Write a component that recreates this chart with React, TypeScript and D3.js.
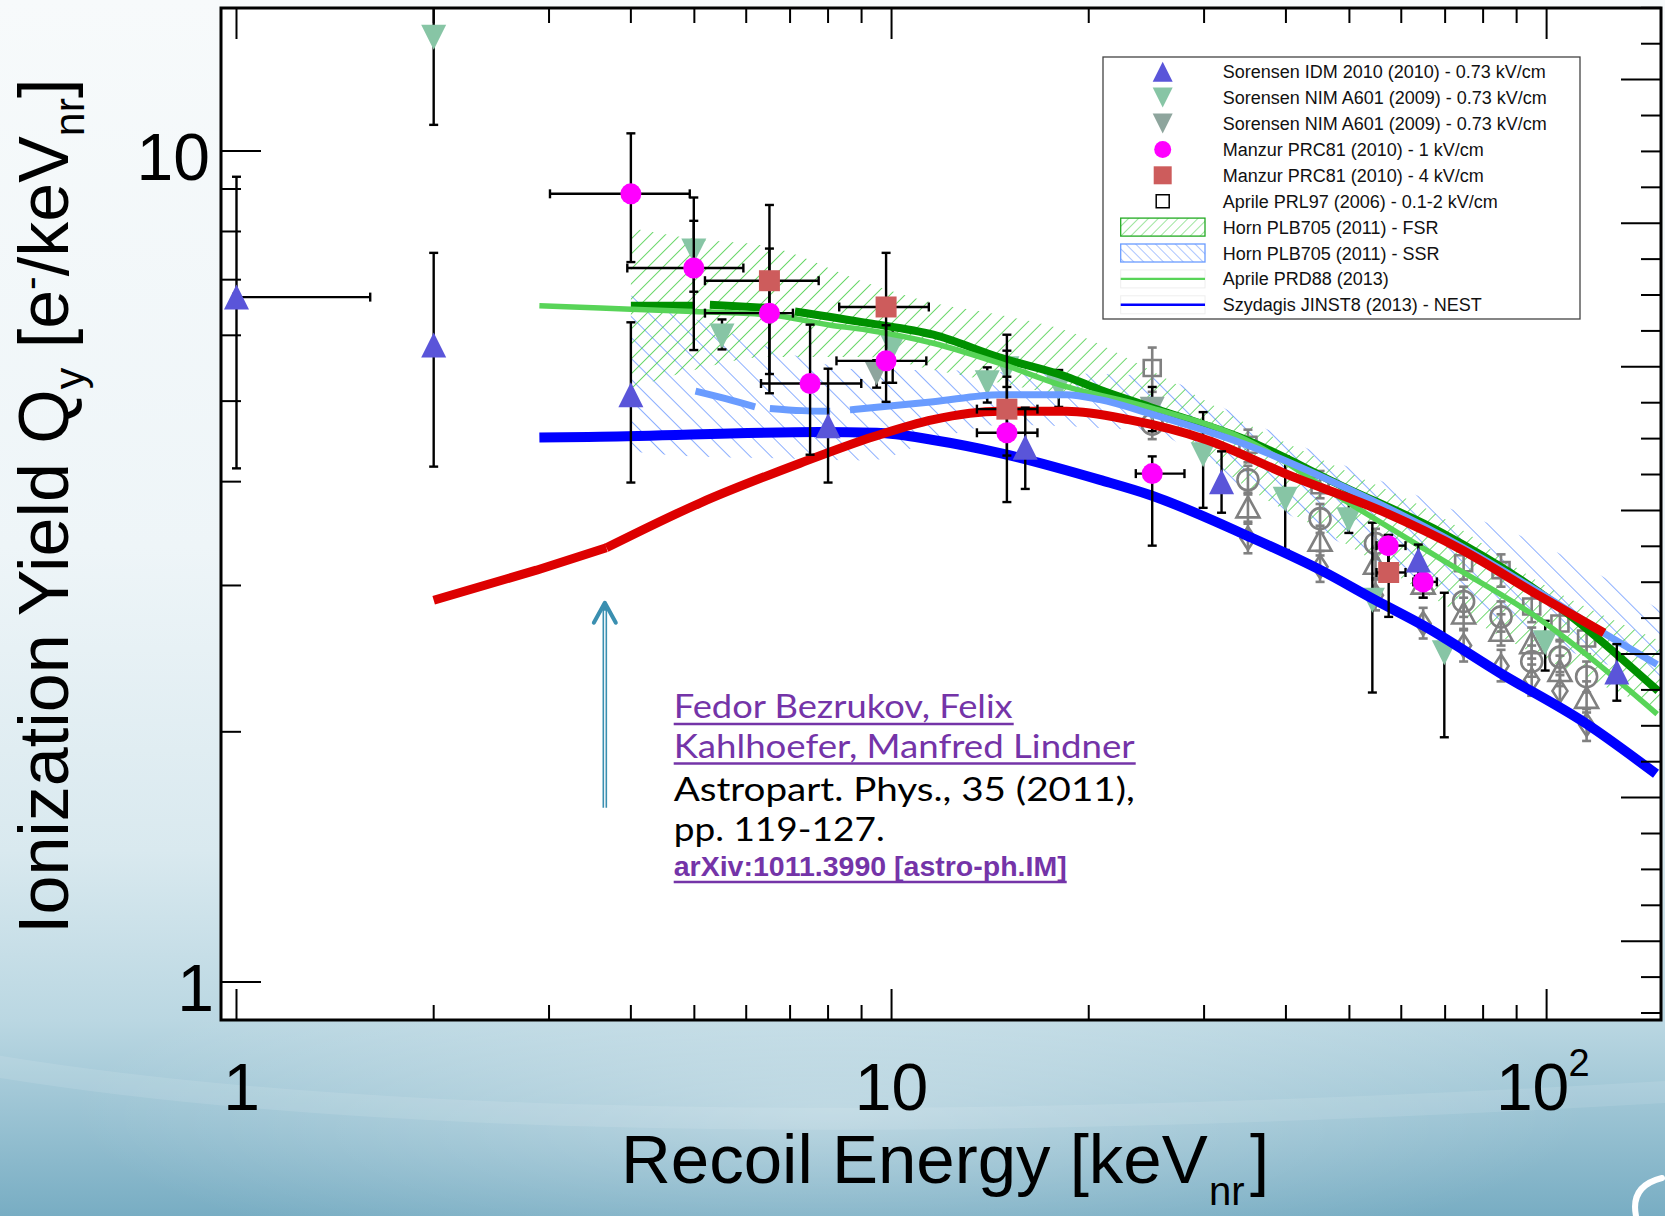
import React from "react";
import * as d3 from "d3";

// ---------- canvas & frame ----------
const WIDTH = 1665;
const HEIGHT = 1216;
const FRAME = { left: 221, top: 8, right: 1661, bottom: 1020 };

const X_DOMAIN: [number, number] = [0.947, 149.5];
const Y_DOMAIN: [number, number] = [0.9, 14.86];
const RIGHT_DOMAIN: [number, number] = [-0.195, 27.995];

// ---------- ticks ----------
const xTicksMajor = [1, 10, 100];
const xTicksMinor = [2, 3, 4, 5, 6, 7, 8, 9, 20, 30, 40, 50, 60, 70, 80, 90];
const yTicksMajor = [1, 10];
const yTicksMinor = [2, 3, 4, 5, 6, 7, 8, 9];
const rightTicks = d3.range(0, 29);

// ---------- measurements (E [keVnr], Qy [e-/keVnr], bounds) ----------
type Pt = { e: number; q: number; eLo?: number; eHi?: number; qLo?: number; qHi?: number };

const sorensenIdm: Pt[] = [
  { e: 1.0, q: 6.67, eLo: 0.99, eHi: 1.6, qLo: 4.15, qHi: 9.31 },
  { e: 2.0, q: 5.84, qLo: 4.17, qHi: 7.54 },
  { e: 4.0, q: 5.09, qLo: 3.99, qHi: 6.22 },
  { e: 8.0, q: 4.67, qLo: 3.99, qHi: 5.47 },
  { e: 16.0, q: 4.4, qLo: 3.92, qHi: 4.91 },
  { e: 31.9, q: 4.0, qLo: 3.67, qHi: 4.35 },
  { e: 63.7, q: 3.22, qLo: 3.08, qHi: 3.36 },
  { e: 128, q: 2.36, qLo: 2.18, qHi: 2.55 },
];

const sorensenNimA: Pt[] = [
  { e: 2.0, q: 13.7, qLo: 10.75, qHi: 16 },
  { e: 4.99, q: 7.58, qLo: 6.77, qHi: 8.24 },
  { e: 5.51, q: 5.99, qLo: 5.77, qHi: 6.27 },
  { e: 10.04, q: 5.81, qLo: 5.26, qHi: 6.17 },
  { e: 14.0, q: 5.26, qLo: 4.98, qHi: 5.49 },
  { e: 15.0, q: 5.47, qLo: 5.2, qHi: 5.75 },
  { e: 18.0, q: 5.2, qLo: 4.92, qHi: 5.45 },
  { e: 29.9, q: 4.31, qLo: 3.72, qHi: 4.85 },
  { e: 39.9, q: 3.81, qLo: 3.31, qHi: 4.29 },
  { e: 49.9, q: 3.6, qLo: 3.47, qHi: 3.88 },
  { e: 54.2, q: 2.88, qLo: 2.23, qHi: 3.57 },
  { e: 69.8, q: 2.49, qLo: 1.97, qHi: 2.94 },
  { e: 99.5, q: 2.56, qLo: 2.37, qHi: 2.72 },
];

const sorensenNimB: Pt[] = [
  { e: 9.49, q: 5.41, qLo: 5.19, qHi: 5.6 },
  { e: 25.0, q: 4.89, qLo: 4.6, qHi: 5.2 },
];

const manzur1kV: Pt[] = [
  { e: 4.0, q: 8.88, eLo: 3.01, eHi: 4.92, qLo: 7.35, qHi: 10.5 },
  { e: 4.99, q: 7.23, eLo: 3.95, eHi: 5.94, qLo: 5.76, qHi: 8.79 },
  { e: 6.51, q: 6.38, eLo: 5.19, eHi: 7.07, qLo: 5.39, qHi: 7.63 },
  { e: 7.51, q: 5.25, eLo: 6.32, eHi: 8.99, qLo: 4.31, qHi: 6.18 },
  { e: 9.81, q: 5.59, eLo: 8.24, eHi: 11.3, qLo: 4.99, qHi: 6.17 },
  { e: 15.0, q: 4.58, eLo: 13.5, eHi: 16.7, qLo: 3.78, qHi: 5.35 },
  { e: 25.0, q: 4.09, eLo: 23.6, eHi: 28.0, qLo: 3.35, qHi: 4.29 },
  { e: 57.3, q: 3.35, eLo: 55.0, eHi: 60.9, qLo: 3.05, qHi: 3.45 },
  { e: 64.8, q: 3.03, eLo: 62.6, eHi: 68.0, qLo: 2.9, qHi: 3.15 },
];

const manzur4kV: Pt[] = [
  { e: 6.51, q: 6.98, eLo: 5.19, eHi: 7.74, qLo: 5.11, qHi: 8.61 },
  { e: 9.81, q: 6.49, eLo: 8.32, eHi: 11.4, qLo: 5.26, qHi: 7.54 },
  { e: 15.0, q: 4.89, eLo: 13.5, eHi: 16.7, qLo: 4.3, qHi: 6.01 },
  { e: 57.4, q: 3.11, eLo: 55.0, eHi: 60.9, qLo: 2.75, qHi: 3.45 },
];

// [E, Qy, Qy low, Qy high]
const aprile2006Squares = [
  [25.0, 5.48, 5.13, 5.8], [35.0, 4.43, 4.22, 4.62], [45.1, 3.96, 3.82, 4.12],
  [74.7, 3.19, 3.05, 3.34], [85.2, 3.13, 2.99, 3.27], [94.9, 2.83, 2.71, 2.96],
  [104.8, 2.7, 2.58, 2.83], [115.1, 2.59, 2.48, 2.71],
];
const greyCircles = [
  [25.0, 4.69, 4.5, 4.9], [35.0, 4.02, 3.86, 4.18], [45.1, 3.61, 3.47, 3.76],
  [54.8, 3.37, 3.23, 3.51], [74.7, 2.87, 2.75, 2.99], [85.2, 2.75, 2.64, 2.87],
  [94.9, 2.43, 2.33, 2.54], [104.8, 2.46, 2.36, 2.57], [115.1, 2.33, 2.23, 2.43],
];
const greyTriangles = [
  [35.0, 3.73, 3.58, 3.88], [45.1, 3.4, 3.26, 3.54], [54.8, 3.19, 3.06, 3.33],
  [64.8, 3.02, 2.9, 3.15], [74.7, 2.78, 2.66, 2.9], [85.2, 2.65, 2.54, 2.77],
  [94.9, 2.56, 2.45, 2.67], [104.8, 2.37, 2.27, 2.47], [115.1, 2.2, 2.11, 2.3],
];
const greyDiamonds = [
  [35.0, 3.42, 3.28, 3.56], [45.1, 3.16, 3.03, 3.3], [54.8, 2.92, 2.8, 3.05],
  [64.8, 2.7, 2.59, 2.82], [74.7, 2.54, 2.43, 2.65], [85.2, 2.4, 2.3, 2.51],
  [94.9, 2.31, 2.21, 2.41], [104.8, 2.24, 2.14, 2.34], [115.1, 2.04, 1.95, 2.13],
];

// ---------- model curves [E, Qy] ----------
const nestCurve = [
  [2.9, 4.52], [3.59, 4.53], [7.78, 4.59], [9.49, 4.58], [11.57, 4.49], [14.64, 4.33],
  [20.8, 4.02], [24.8, 3.855], [35.0, 3.44], [45.2, 3.13], [54.8, 2.88], [65.1, 2.68],
  [85.2, 2.35], [114.5, 2.05], [146.9, 1.78],
];
// low-energy part is piecewise linear, the rest smooth
const bezrukovLow = [[2.0, 2.88], [2.87, 3.13], [3.67, 3.33]];
const bezrukovHigh = [
  [3.67, 3.33], [5.1, 3.77], [7.25, 4.21], [9.38, 4.53],
  [11.58, 4.75], [14.64, 4.86], [18.5, 4.86], [23.0, 4.75], [30.3, 4.49], [39.9, 4.09],
  [56.3, 3.68], [74.3, 3.31], [97.8, 2.91], [122.4, 2.63],
];
const aprile2013Curve = [
  [2.9, 6.51], [3.59, 6.47], [4.98, 6.41], [6.52, 6.35], [8.07, 6.17], [9.17, 6.09],
  [11.58, 5.87], [14.64, 5.55], [18.1, 5.23], [24.6, 4.92], [34.8, 4.49], [49.1, 3.8],
  [69.3, 3.22], [97.7, 2.73], [147.5, 2.1],
];
// FSR central curve: dashed pieces at low energy, then continuous
const fsrCurveSegments = [
  [[4.0, 6.51], [4.98, 6.51]],
  [[5.28, 6.53], [6.56, 6.47]],
  [[7.12, 6.41], [9.17, 6.21], [11.58, 6.01], [14.64, 5.64], [18.5, 5.35], [20.8, 5.16],
   [24.8, 4.92], [34.8, 4.49], [49.1, 3.94], [69.3, 3.47], [97.7, 2.94], [148, 2.24]],
];
// SSR central curve
const ssrCurveSegments = [
  [[5.02, 5.14], [5.6, 5.03], [6.19, 4.92]],
  [[6.52, 4.9], [7.3, 4.87], [8.06, 4.86]],
  [[8.64, 4.88], [11.58, 4.99], [14.64, 5.09], [18.5, 5.09], [20.8, 5.02], [24.8, 4.83],
   [34.8, 4.43], [49.1, 3.94], [69.3, 3.44], [97.7, 2.94], [120.3, 2.65], [147.5, 2.41]],
];

// ---------- bands [E, Qy low, Qy high] ----------
const fsrBand = [
  [4.0, 5.18, 8.08], [5.0, 5.45, 7.84], [6.5, 5.65, 7.67], [9.2, 5.65, 6.93],
  [11.6, 5.45, 6.56], [14.6, 5.26, 6.35], [18.8, 5.05, 6.05], [24.8, 4.82, 5.45],
  [34.8, 3.94, 4.7], [49, 3.38, 4.13], [69, 2.86, 3.63], [98, 2.46, 3.02], [149.5, 2.12, 2.57],
];
const ssrBand = [
  [4.0, 4.35, 6.7], [5.0, 4.29, 6.28], [6.5, 4.27, 5.81], [9.2, 4.24, 5.45],
  [11.6, 4.49, 5.45], [14.6, 4.68, 5.42], [20.8, 4.64, 5.39], [24.8, 4.59, 5.36],
  [34.8, 3.91, 4.75], [49, 3.36, 4.19], [69, 2.96, 3.75], [98, 2.58, 3.36], [149.5, 2.3, 2.8],
];

// ---------- annotation ----------
const arrowEnergy = 3.65;
const arrowQ: [number, number] = [1.62, 2.86];
const citationE = 4.65;

// ---------- colours ----------
const C = {
  idm: "#5a55d9",
  nimA: "#87c5a5",
  nimB: "#8ea59d",
  manzur1: "#ff00ff",
  manzur4: "#cd5c5c",
  grey: "#808080",
  nest: "#0000ff",
  bezrukov: "#dd0000",
  fsrLine: "#009000",
  aprile13: "#58d458",
  ssrLine: "#6a9cff",
  fsrHatch: "#3fcc3f",
  ssrHatch: "#5a8cff",
  purple: "#7434a8",
  arrow: "#3a8fb0",
};

const FONT = "'Liberation Sans', Arial, Helvetica, sans-serif";

type Shape = "triUp" | "triDown" | "circle" | "square" | "diamond";

function shapePath(shape: Shape, w: number, h: number = w): string {
  switch (shape) {
    case "triUp":
      return `M0,${-h / 2}L${w / 2},${h / 2}L${-w / 2},${h / 2}Z`;
    case "triDown":
      return `M0,${h / 2}L${w / 2},${-h / 2}L${-w / 2},${-h / 2}Z`;
    case "square":
      return `M${-w / 2},${-h / 2}h${w}v${h}h${-w}Z`;
    case "diamond":
      return `M0,${-h / 2}L${w / 2},0L0,${h / 2}L${-w / 2},0Z`;
    default: {
      const r = w / 2;
      return `M${r},0A${r},${r} 0 1,1 ${-r},0A${r},${r} 0 1,1 ${r},0Z`;
    }
  }
}

export default function App() {
  const x = d3.scaleLog().domain(X_DOMAIN).range([FRAME.left, FRAME.right]);
  const y = d3.scaleLog().domain(Y_DOMAIN).range([FRAME.bottom, FRAME.top]);
  const yRight = d3.scaleLinear().domain(RIGHT_DOMAIN).range([FRAME.bottom, FRAME.top]);

  const line = d3
    .line<number[]>()
    .x((d) => x(d[0]))
    .y((d) => y(d[1]))
    .curve(d3.curveMonotoneX);
  const lineLinear = d3
    .line<number[]>()
    .x((d) => x(d[0]))
    .y((d) => y(d[1]));
  const band = d3
    .area<number[]>()
    .x((d) => x(d[0]))
    .y0((d) => y(d[1]))
    .y1((d) => y(d[2]))
    .curve(d3.curveMonotoneX);

  const cap = 4.5;

  const errorBars = (pts: Pt[], color: string, key: string) =>
    pts.map((p, i) => {
      const cx = x(p.e);
      const cy = y(p.q);
      const parts: JSX.Element[] = [];
      if (p.qLo !== undefined && p.qHi !== undefined) {
        const y0 = y(p.qLo);
        const y1 = y(p.qHi);
        parts.push(<line key="v" x1={cx} x2={cx} y1={y0} y2={y1} />);
        parts.push(<line key="c0" x1={cx - cap} x2={cx + cap} y1={y0} y2={y0} />);
        parts.push(<line key="c1" x1={cx - cap} x2={cx + cap} y1={y1} y2={y1} />);
      }
      if (p.eLo !== undefined && p.eHi !== undefined) {
        const x0 = x(p.eLo);
        const x1 = x(p.eHi);
        parts.push(<line key="h" x1={x0} x2={x1} y1={cy} y2={cy} />);
        parts.push(<line key="c2" x1={x0} x2={x0} y1={cy - cap} y2={cy + cap} />);
        parts.push(<line key="c3" x1={x1} x2={x1} y1={cy - cap} y2={cy + cap} />);
      }
      return (
        <g key={`${key}-e${i}`} stroke={color} strokeWidth={2.4}>
          {parts}
        </g>
      );
    });

  const markers = (pts: Pt[], shape: Shape, fill: string, size: number, key: string) =>
    pts.map((p, i) => (
      <path
        key={`${key}-m${i}`}
        d={shapePath(shape, size)}
        transform={`translate(${x(p.e)},${y(p.q)})`}
        fill={fill}
      />
    ));

  const greySet = (rows: number[][], shape: Shape, w: number, h: number, key: string) => (
    <g key={key}>
      {rows.map((r, i) => {
        const cx = x(r[0]);
        const y0 = y(r[2]);
        const y1 = y(r[3]);
        return (
          <g key={i} stroke={C.grey} strokeWidth={2.6}>
            <line x1={cx} x2={cx} y1={y0} y2={y1} />
            <line x1={cx - 4.5} x2={cx + 4.5} y1={y0} y2={y0} />
            <line x1={cx - 4.5} x2={cx + 4.5} y1={y1} y2={y1} />
            <path
              d={shapePath(shape, w, h)}
              transform={`translate(${cx},${y(r[1])})`}
              fill="none"
            />
          </g>
        );
      })}
    </g>
  );

  const legendItems = [
    { kind: "triUp", color: C.idm, label: "Sorensen IDM 2010 (2010) - 0.73 kV/cm" },
    { kind: "triDown", color: C.nimA, label: "Sorensen NIM A601 (2009) - 0.73 kV/cm" },
    { kind: "triDown", color: C.nimB, label: "Sorensen NIM A601 (2009) - 0.73 kV/cm" },
    { kind: "circle", color: C.manzur1, label: "Manzur PRC81 (2010) - 1 kV/cm" },
    { kind: "square", color: C.manzur4, label: "Manzur PRC81 (2010) - 4 kV/cm" },
    { kind: "open", color: "#000", label: "Aprile PRL97 (2006) - 0.1-2 kV/cm" },
    { kind: "fsr", color: C.fsrHatch, label: "Horn PLB705 (2011) - FSR" },
    { kind: "ssr", color: C.ssrHatch, label: "Horn PLB705 (2011) - SSR" },
    { kind: "line", color: C.aprile13, label: "Aprile PRD88 (2013)" },
    { kind: "line", color: C.nest, label: "Szydagis JINST8 (2013) - NEST" },
  ];
  const LEG = { x: 1103, y: 57, w: 477, h: 262, row: 25.9, first: 71.7, symX: 1162.7, textX: 1222.7 };

  const xLabelY = 1110;

  return (
    <div style={{ position: "absolute", left: 0, top: 0, width: WIDTH, height: HEIGHT }}>
      <svg width={WIDTH} height={HEIGHT} viewBox={`0 0 ${WIDTH} ${HEIGHT}`} style={{ display: "block" }}>
        <defs>
          <linearGradient id="bg" x1="0" y1="0" x2="0" y2="1">
            <stop offset="0" stopColor="#f7fafb" />
            <stop offset="0.45" stopColor="#eef5f8" />
            <stop offset="0.7" stopColor="#d9e9ef" />
            <stop offset="0.84" stopColor="#bad7e2" />
            <stop offset="1" stopColor="#78adc3" />
          </linearGradient>
          <radialGradient id="glow" cx="0.5" cy="0.5" r="0.5">
            <stop offset="0" stopColor="#ffffff" stopOpacity="0.35" />
            <stop offset="1" stopColor="#ffffff" stopOpacity="0" />
          </radialGradient>
          <pattern id="hatchFsr" patternUnits="userSpaceOnUse" width="10.6" height="10.6" patternTransform="rotate(45)">
            <line x1="0" y1="0" x2="0" y2="10.6" stroke={C.fsrHatch} strokeWidth="1.5" />
          </pattern>
          <pattern id="hatchSsr" patternUnits="userSpaceOnUse" width="14.8" height="14.8" patternTransform="rotate(-45)">
            <line x1="0" y1="0" x2="0" y2="14.8" stroke={C.ssrHatch} strokeWidth="1.4" />
          </pattern>
          <pattern id="hatchFsrLeg" patternUnits="userSpaceOnUse" width="7" height="7" patternTransform="rotate(45)">
            <line x1="0" y1="0" x2="0" y2="7" stroke={C.fsrHatch} strokeWidth="1" />
          </pattern>
          <pattern id="hatchSsrLeg" patternUnits="userSpaceOnUse" width="7" height="7" patternTransform="rotate(-45)">
            <line x1="0" y1="0" x2="0" y2="7" stroke={C.ssrHatch} strokeWidth="1" />
          </pattern>
          <clipPath id="plotClip">
            <rect x={FRAME.left} y={FRAME.top} width={FRAME.right - FRAME.left} height={FRAME.bottom - FRAME.top} />
          </clipPath>
        </defs>

        {/* slide background */}
        <rect x={0} y={0} width={WIDTH} height={HEIGHT} fill="url(#bg)" />
        <ellipse cx={830} cy={1110} rx={760} ry={170} fill="url(#glow)" />
        <path d="M -40 1060 Q 520 1160 1700 1090" fill="none" stroke="#ffffff" strokeOpacity={0.1} strokeWidth={22} />
        <path d="M 1636 1216 Q 1630 1186 1662 1178" fill="none" stroke="#ffffff" strokeWidth={6} strokeLinecap="round" />

        {/* plot area */}
        <rect x={FRAME.left} y={FRAME.top} width={FRAME.right - FRAME.left} height={FRAME.bottom - FRAME.top} fill="#ffffff" />

        <g clipPath="url(#plotClip)">
          {/* Horn bands */}
          <path d={band(ssrBand) ?? ""} fill="url(#hatchSsr)" />
          <path d={band(fsrBand) ?? ""} fill="url(#hatchFsr)" />

          {/* grey reference data */}
          {greySet(aprile2006Squares, "square", 17, 16, "gsq")}
          {greySet(greyCircles, "circle", 21, 21, "gci")}
          {greySet(greyTriangles, "triUp", 23, 21, "gtr")}
          {greySet(greyDiamonds, "diamond", 15, 23, "gdi")}

          {/* Sorensen NIM A601 */}
          {errorBars(sorensenNimA, "#000", "na")}
          {errorBars(sorensenNimB, "#000", "nb")}
          {markers(sorensenNimA, "triDown", C.nimA, 25, "na")}
          {markers(sorensenNimB, "triDown", C.nimB, 25, "nb")}

          {/* model curves */}
          {fsrCurveSegments.map((seg, i) => (
            <path key={`fsr${i}`} d={line(seg) ?? ""} fill="none" stroke={C.fsrLine} strokeWidth={8} />
          ))}
          <path d={line(aprile2013Curve) ?? ""} fill="none" stroke={C.aprile13} strokeWidth={5.5} />
          {ssrCurveSegments.map((seg, i) => (
            <path key={`ssr${i}`} d={line(seg) ?? ""} fill="none" stroke={C.ssrLine} strokeWidth={7} />
          ))}
          <path d={line(nestCurve) ?? ""} fill="none" stroke={C.nest} strokeWidth={10} />
          <path d={lineLinear(bezrukovLow) ?? ""} fill="none" stroke={C.bezrukov} strokeWidth={9} strokeLinejoin="round" />
          <path d={line(bezrukovHigh) ?? ""} fill="none" stroke={C.bezrukov} strokeWidth={9} strokeLinejoin="round" />

          {/* Manzur & Sorensen IDM */}
          {errorBars(manzur4kV, "#000", "m4")}
          {errorBars(manzur1kV, "#000", "m1")}
          {errorBars(sorensenIdm, "#000", "idm")}
          {markers(manzur4kV, "square", C.manzur4, 21, "m4")}
          {markers(manzur1kV, "circle", C.manzur1, 21, "m1")}
          {markers(sorensenIdm, "triUp", C.idm, 25, "idm")}
        </g>

        {/* axis ticks */}
        <g stroke="#000" strokeWidth={2}>
          {xTicksMajor.map((t) => (
            <g key={`xM${t}`}>
              <line x1={x(t)} x2={x(t)} y1={FRAME.bottom} y2={FRAME.bottom - 31} />
              <line x1={x(t)} x2={x(t)} y1={FRAME.top} y2={FRAME.top + 31} />
            </g>
          ))}
          {xTicksMinor.map((t) => (
            <g key={`xm${t}`}>
              <line x1={x(t)} x2={x(t)} y1={FRAME.bottom} y2={FRAME.bottom - 15} />
              <line x1={x(t)} x2={x(t)} y1={FRAME.top} y2={FRAME.top + 15} />
            </g>
          ))}
          {yTicksMajor.map((t) => (
            <line key={`yM${t}`} x1={FRAME.left} x2={FRAME.left + 40} y1={y(t)} y2={y(t)} />
          ))}
          {yTicksMinor.map((t) => (
            <line key={`ym${t}`} x1={FRAME.left} x2={FRAME.left + 20} y1={y(t)} y2={y(t)} />
          ))}
          {rightTicks.map((t) => (
            <line
              key={`r${t}`}
              x1={FRAME.right}
              x2={FRAME.right - (t % 4 === 2 ? 40 : 20)}
              y1={yRight(t)}
              y2={yRight(t)}
            />
          ))}
        </g>

        {/* frame */}
        <rect
          x={FRAME.left}
          y={FRAME.top}
          width={FRAME.right - FRAME.left}
          height={FRAME.bottom - FRAME.top}
          fill="none"
          stroke="#000"
          strokeWidth={3}
        />

        {/* legend */}
        <g>
          <rect x={LEG.x} y={LEG.y} width={LEG.w} height={LEG.h} fill="#ffffff" stroke="#444" strokeWidth={1.3} />
          {legendItems.map((it, i) => {
            const cy = LEG.first + i * LEG.row;
            let sym: JSX.Element;
            if (it.kind === "fsr" || it.kind === "ssr") {
              sym = (
                <rect
                  x={1120.7}
                  y={cy - 9}
                  width={84.3}
                  height={18}
                  fill={it.kind === "fsr" ? "url(#hatchFsrLeg)" : "url(#hatchSsrLeg)"}
                  stroke={it.kind === "fsr" ? "#22aa22" : "#6a9cff"}
                  strokeWidth={1.3}
                />
              );
            } else if (it.kind === "line") {
              sym = (
                <g>
                  <rect x={1120.7} y={cy - 9} width={84.3} height={18} fill="#fff" stroke="#eee" strokeWidth={1} />
                  <line x1={1120.7} x2={1205} y1={cy} y2={cy} stroke={it.color} strokeWidth={2.4} />
                </g>
              );
            } else if (it.kind === "open") {
              sym = (
                <path
                  d={shapePath("square", 13)}
                  transform={`translate(${LEG.symX},${cy})`}
                  fill="none"
                  stroke="#000"
                  strokeWidth={1.5}
                />
              );
            } else {
              const size = it.kind === "circle" ? 17 : it.kind === "square" ? 18 : 20;
              sym = (
                <path d={shapePath(it.kind as Shape, size)} transform={`translate(${LEG.symX},${cy})`} fill={it.color} />
              );
            }
            return (
              <g key={`leg${i}`}>
                {sym}
                <text x={LEG.textX} y={cy + 6.5} fontFamily={FONT} fontSize={18} fill="#111">
                  {it.label}
                </text>
              </g>
            );
          })}
        </g>

        {/* tick labels */}
        <g fontFamily={FONT} fontSize={66} fill="#000">
          <text x={x(1) + 5} y={xLabelY} textAnchor="middle">1</text>
          <text x={x(10)} y={xLabelY} textAnchor="middle">10</text>
          <text x={x(100) - 14} y={xLabelY} textAnchor="middle">
            10
          </text>
          <text x={x(100) + 22} y={1076} fontSize={38}>2</text>
          <text x={210} y={y(10) + 29} textAnchor="end">10</text>
          <text x={214} y={y(1) + 29} textAnchor="end">1</text>
        </g>

        {/* axis titles */}
        <text x={621} y={1183} fontFamily={FONT} fontSize={69} fill="#000">
          Recoil Energy [keV
          <tspan x={1209} dy={22} fontSize={40}>nr</tspan>
          <tspan x={1250} dy={-22}>]</tspan>
        </text>
        <text transform="translate(68,934) rotate(-90)" fontFamily={FONT} fontSize={70} fill="#000">
          Ionization Yield Q
          <tspan dy={16} fontSize={43}>y</tspan>
          <tspan dy={-16}> [e</tspan>
          <tspan dy={-24} fontSize={41}>-</tspan>
          <tspan dy={24}>/keV</tspan>
          <tspan dy={16} fontSize={43}>nr</tspan>
          <tspan dy={-16}>]</tspan>
        </text>

        {/* arrow annotation */}
        <g stroke={C.arrow} fill="none" strokeLinecap="round" strokeLinejoin="round">
          <line x1={x(arrowEnergy)} x2={x(arrowEnergy)} y1={y(arrowQ[0])} y2={y(arrowQ[1]) + 4} strokeWidth={4.6} strokeLinecap="butt" />
          <line x1={x(arrowEnergy)} x2={x(arrowEnergy)} y1={y(arrowQ[0]) + 1} y2={y(arrowQ[1]) + 8} stroke="#ffffff" strokeWidth={1.4} strokeLinecap="butt" />
          <polyline
            points={`${x(arrowEnergy) - 11},${y(arrowQ[1]) + 20} ${x(arrowEnergy)},${y(arrowQ[1])} ${x(arrowEnergy) + 11},${y(arrowQ[1]) + 20}`}
            strokeWidth={4}
          />
        </g>

        {/* citation */}
        <g>
          <text x={x(citationE)} y={718} fontFamily="Lato, 'Open Sans', sans-serif" fontSize={32} fill={C.purple} textLength={339} lengthAdjust="spacingAndGlyphs">
            Fedor Bezrukov, Felix
          </text>
          <line x1={x(citationE)} x2={x(citationE) + 340} y1={724} y2={724} stroke={C.purple} strokeWidth={2.5} />
          <text x={x(citationE)} y={758} fontFamily="Lato, 'Open Sans', sans-serif" fontSize={32} fill={C.purple} textLength={461} lengthAdjust="spacingAndGlyphs">
            Kahlhoefer, Manfred Lindner
          </text>
          <line x1={x(citationE)} x2={x(citationE) + 462} y1={763.5} y2={763.5} stroke={C.purple} strokeWidth={2.5} />
          <text x={x(citationE)} y={801} fontFamily="Lato, 'Open Sans', sans-serif" fontSize={32} fill="#000" textLength={461} lengthAdjust="spacingAndGlyphs">
            Astropart. Phys., 35 (2011),
          </text>
          <text x={x(citationE)} y={841} fontFamily="Lato, 'Open Sans', sans-serif" fontSize={32} fill="#000" textLength={211} lengthAdjust="spacingAndGlyphs">
            pp. 119-127.
          </text>
          <text x={x(citationE)} y={876} fontFamily={FONT} fontWeight="bold" fontSize={27} fill={C.purple} textLength={393} lengthAdjust="spacingAndGlyphs">
            arXiv:1011.3990 [astro-ph.IM]
          </text>
          <line x1={x(citationE)} x2={x(citationE) + 393} y1={882} y2={882} stroke={C.purple} strokeWidth={2.5} />
        </g>
      </svg>
    </div>
  );
}
